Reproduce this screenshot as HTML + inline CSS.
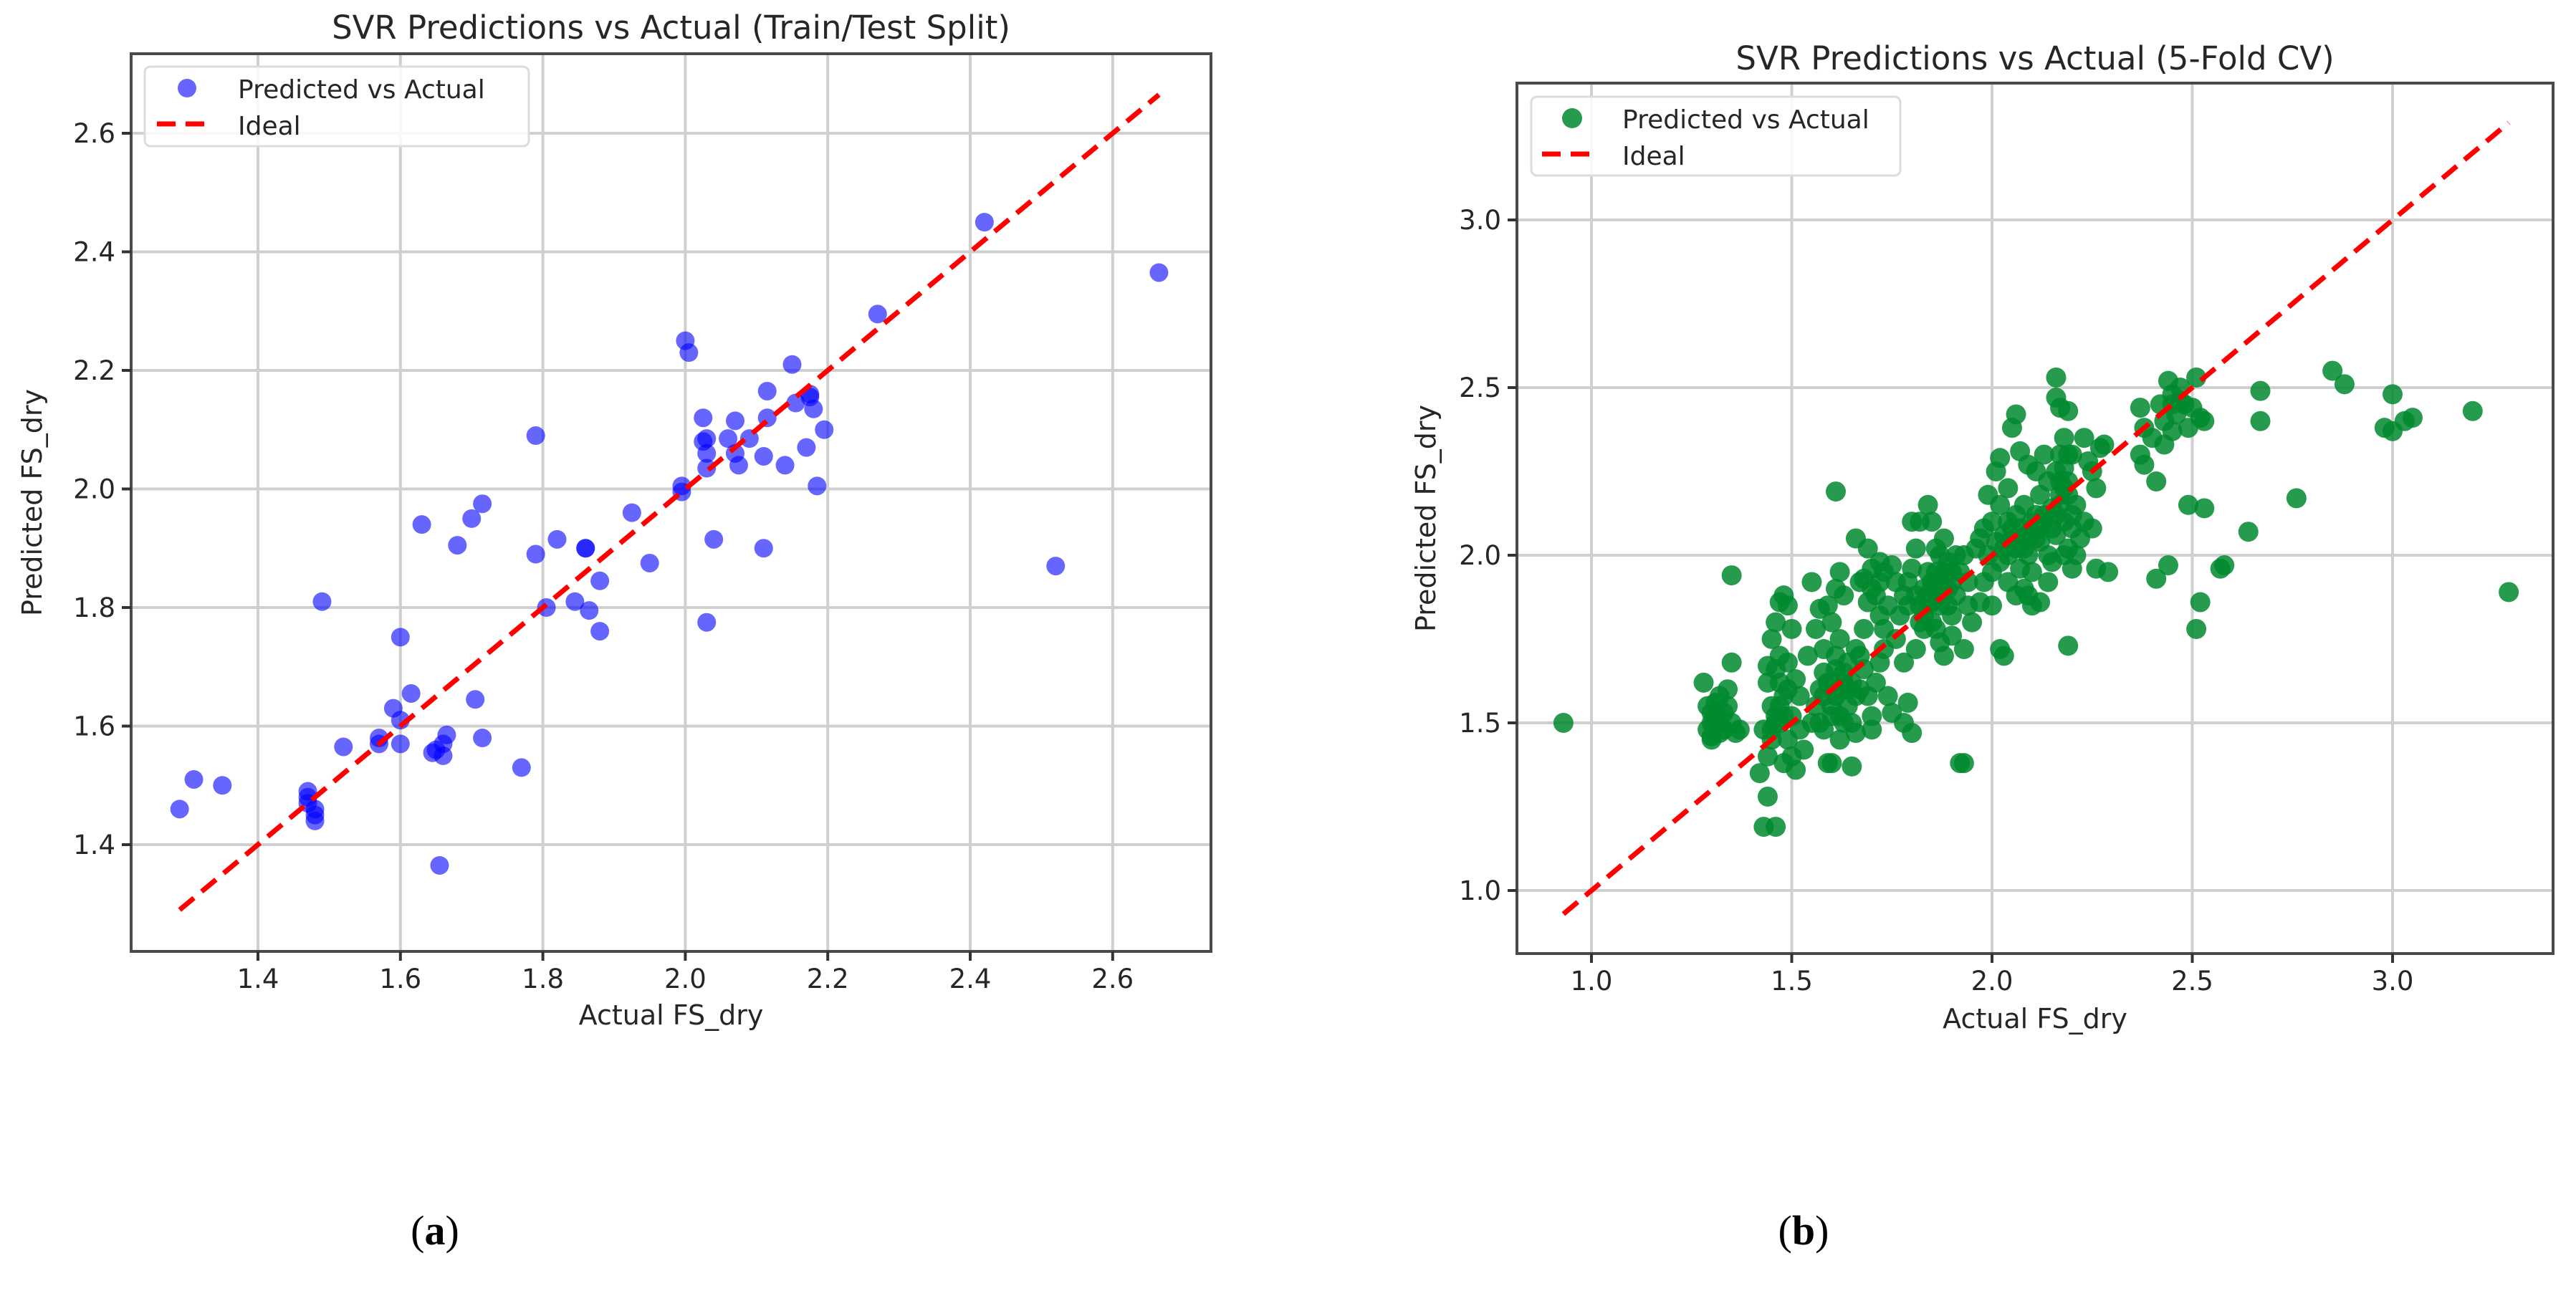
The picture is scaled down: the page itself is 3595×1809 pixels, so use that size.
<!DOCTYPE html>
<html>
<head>
<meta charset="utf-8">
<style>
  html,body{margin:0;padding:0;background:#fff;}
  svg{display:block;}
  text{font-family:"DejaVu Sans","Liberation Sans",sans-serif;fill:#262626;}
</style>
</head>
<body>
<svg id="fig" width="3595" height="1809" viewBox="0 0 3595 1809" xmlns="http://www.w3.org/2000/svg">
  <rect width="3595" height="1809" fill="#fff"/>
  <g id="panelA"></g>
  <g id="panelB"></g>
  <text x="607" y="1737" font-size="58" text-anchor="middle" style="font-family:'Liberation Serif',serif;fill:#000">(<tspan font-weight="bold">a</tspan>)</text>
  <text x="2517" y="1737" font-size="58" text-anchor="middle" style="font-family:'Liberation Serif',serif;fill:#000">(<tspan font-weight="bold">b</tspan>)</text>
</svg>
<script>
// ---- Panel A data (Train/Test split) ----
const aActual = [1.29,1.31,1.35,1.47,1.47,1.48,1.48,1.48,1.47,1.49,
1.52,1.57,1.57,1.59,1.60,1.60,1.60,1.615,1.63,1.645,
1.65,1.655,1.66,1.66,1.665,1.68,1.70,1.705,1.715,1.715,
1.77,1.79,1.79,1.805,1.82,1.845,1.86,1.86,1.865,1.88,
1.88,1.925,1.95,1.995,1.995,2.00,2.005,2.025,2.025,2.03,
2.03,2.03,2.03,2.04,2.06,2.07,2.07,2.075,2.09,2.11,
2.11,2.115,2.115,2.14,2.15,2.155,2.17,2.175,2.175,2.18,
2.185,2.195,2.27,2.42,2.52,2.665];
const aPred = [1.46,1.51,1.50,1.47,1.49,1.46,1.45,1.44,1.48,1.81,
1.565,1.57,1.58,1.63,1.75,1.57,1.61,1.655,1.94,1.555,
1.56,1.365,1.55,1.57,1.585,1.905,1.95,1.645,1.975,1.58,
1.53,2.09,1.89,1.80,1.915,1.81,1.90,1.90,1.795,1.76,
1.845,1.96,1.875,1.995,2.005,2.25,2.23,2.12,2.08,2.085,
2.035,2.06,1.775,1.915,2.085,2.115,2.06,2.04,2.085,2.055,
1.90,2.165,2.12,2.04,2.21,2.145,2.07,2.155,2.16,2.135,
2.005,2.10,2.295,2.45,1.87,2.365];
const aXTicks = [1.4,1.6,1.8,2.0,2.2,2.4,2.6];
const aYTicks = [1.4,1.6,1.8,2.0,2.2,2.4,2.6];
const aIdeal = [1.29,2.665];

// ---- Panel B data (5-fold CV) ----
const bActual = [1.28,1.29,1.30,1.30,1.31,1.32,1.33,1.34,1.35,1.36,
1.29,1.31,1.33,1.35,1.35,1.37,1.30,1.32,0.93,1.34,
1.43,1.46,1.44,1.42,1.44,1.45,1.43,1.46,1.47,1.45,
1.44,1.46,1.47,1.45,1.46,1.47,1.48,1.49,1.48,1.49,
1.50,1.48,1.50,1.51,1.47,1.49,1.44,1.50,1.51,1.52,
1.53,1.55,1.56,1.57,1.58,1.58,1.59,1.60,1.60,1.61,
1.61,1.62,1.60,1.59,1.61,1.62,1.61,1.63,1.64,1.65,
1.65,1.66,1.64,1.66,1.67,1.68,1.69,1.70,1.70,1.68,
1.66,1.70,1.72,1.71,1.72,1.73,1.74,1.75,1.78,1.80,
1.79,1.63,1.55,1.57,1.54,1.56,1.58,1.62,1.67,1.69,
1.52,1.57,1.63,1.64,1.59,
1.76,1.77,1.78,1.79,1.80,1.81,1.80,1.82,1.84,1.85,
1.83,1.84,1.85,1.86,1.87,1.88,1.86,1.87,1.88,1.89,
1.90,1.91,1.92,1.93,1.94,1.95,1.93,1.92,1.78,1.81,
1.82,1.84,1.86,1.88,1.89,1.90,1.91,1.79,1.83,1.87,
1.90,1.76,1.81,1.85,1.94,
1.96,1.97,1.98,1.99,2.00,2.00,2.01,2.02,2.02,2.03,
2.04,2.04,2.05,2.06,2.06,2.07,2.08,2.08,2.09,2.10,
2.10,2.11,2.12,2.12,2.13,2.14,2.14,2.15,2.16,2.16,
2.17,2.17,2.18,2.18,2.19,2.19,2.20,2.20,2.21,2.22,
2.02,2.03,2.00,2.01,2.02,1.99,2.05,2.06,2.07,2.09,
2.16,2.16,2.17,2.19,2.19,2.20,2.23,2.24,2.25,2.26,
2.27,2.28,2.26,2.29,2.23,2.25,2.09,2.10,2.12,2.14,
2.06,2.08,1.97,1.98,2.04,2.11,2.13,2.15,2.18,2.21,
2.37,2.38,2.37,2.38,2.40,2.41,2.42,2.43,2.44,2.45,
2.46,2.47,2.48,2.49,2.50,2.51,2.45,2.43,2.53,2.52,
2.49,2.53,2.41,2.44,2.51,2.52,
2.57,2.58,2.64,2.67,2.67,2.76,2.85,2.88,2.98,3.00,
3.00,3.03,3.05,3.20,3.29,1.93,
1.58,1.60,1.62,1.63,1.60,1.62,1.65,1.67,1.66,1.61,
1.70,1.72,1.73,1.71,1.74,1.69,1.72,1.68,1.75,1.73,
1.82,1.84,1.85,1.86,1.87,1.88,1.89,1.90,1.83,1.85,
2.05,2.07,2.08,2.10,2.11,2.12,2.13,2.15,2.16,2.17,
2.18,2.19,2.20,2.17,2.18,2.19,2.03,2.04,2.06,2.09,
1.46,1.47,1.48,1.45,1.49,1.31,1.32,1.30,2.45,2.47];
const bPred = [1.62,1.55,1.50,1.46,1.52,1.58,1.48,1.60,1.50,1.47,
1.48,1.56,1.53,1.68,1.94,1.48,1.45,1.50,1.50,1.55,
1.19,1.19,1.28,1.35,1.40,1.45,1.48,1.52,1.50,1.55,
1.62,1.66,1.70,1.75,1.80,1.86,1.88,1.85,1.58,1.45,
1.52,1.38,1.40,1.36,1.62,1.68,1.67,1.78,1.63,1.48,
1.42,1.50,1.55,1.60,1.65,1.48,1.38,1.38,1.52,1.58,
1.70,1.75,1.80,1.85,1.90,1.95,2.19,1.62,1.55,1.50,
1.37,1.47,1.68,1.72,1.60,1.66,1.58,1.52,1.48,1.78,
2.05,1.96,1.98,1.62,1.68,1.72,1.58,1.53,1.50,1.47,
1.56,1.88,1.92,1.84,1.70,1.78,1.72,1.45,1.92,2.02,
1.58,1.50,1.50,1.60,1.62,
1.75,1.82,1.88,1.92,1.96,2.02,2.10,2.10,2.15,2.10,
1.90,1.85,1.80,1.78,1.74,1.70,1.95,2.00,1.90,1.85,
1.82,1.88,1.95,2.00,1.92,1.80,1.72,1.38,1.68,1.72,
1.80,1.95,2.02,2.05,1.98,1.92,2.00,1.85,1.78,1.85,
1.76,1.92,1.88,1.90,1.85,
2.02,2.05,2.08,2.00,1.95,2.10,2.04,1.98,2.15,2.06,
2.00,1.92,2.08,2.12,2.02,1.96,2.06,2.15,2.00,2.08,
1.95,2.12,2.04,2.18,2.10,2.00,2.22,2.14,2.06,2.25,
2.18,2.30,2.10,2.35,2.02,2.22,2.08,2.30,2.00,2.05,
1.72,1.70,1.85,2.25,2.29,2.18,2.38,2.42,2.31,2.27,
2.53,2.47,2.44,2.43,1.73,1.96,2.35,2.28,2.25,2.20,
2.32,2.33,1.96,1.95,2.10,2.08,1.88,1.85,1.86,1.92,
1.88,1.90,1.86,1.92,2.20,2.25,2.30,1.98,2.00,2.15,
2.44,2.38,2.30,2.27,2.35,2.22,2.45,2.40,2.52,2.48,
2.42,2.50,2.45,2.38,2.44,2.53,2.37,2.33,2.40,2.41,
2.15,2.14,1.93,1.97,1.78,1.86,
1.96,1.97,2.07,2.49,2.40,2.17,2.55,2.51,2.38,2.37,
2.48,2.40,2.41,2.43,1.89,1.38,
1.58,1.62,1.60,1.65,1.55,1.52,1.62,1.70,1.58,1.66,
1.90,1.92,1.95,1.88,1.85,1.86,1.82,1.93,1.97,1.78,
1.85,1.88,1.92,1.88,1.93,1.95,1.90,1.95,1.82,1.86,
2.05,2.08,2.02,2.10,2.05,2.08,2.12,2.08,2.12,2.15,
2.20,2.18,2.12,2.22,2.26,2.30,2.02,2.10,2.06,2.05,
1.50,1.55,1.52,1.48,1.60,1.50,1.47,1.53,2.45,2.46];
const bXTicks = [1.0,1.5,2.0,2.5,3.0];
const bYTicks = [1.0,1.5,2.0,2.5,3.0];
const bIdeal = [0.93,3.29];

const NS = "http://www.w3.org/2000/svg";
function mk(tag, attrs, parent){
  const el = document.createElementNS(NS, tag);
  for (const k in attrs) el.setAttribute(k, attrs[k]);
  parent.appendChild(el);
  return el;
}

function drawPanel(g, cfg){
  const X = cfg.x, Y = cfg.y, b = cfg.box;
  cfg.xTicks.forEach(v=>{
    const gl = mk('line',{x1:X(v),x2:X(v),y1:b.t,y2:b.b,stroke:'#cfcfcf','stroke-width':4},g);
    
    
  });
  cfg.yTicks.forEach(v=>{
    const gl = mk('line',{x1:b.l,x2:b.r,y1:Y(v),y2:Y(v),stroke:'#cfcfcf','stroke-width':4},g);
    
    
  });
  const pts = mk('g',{},g);
  
  
  cfg.xs.forEach((v,i)=>{
    const c = mk('circle',{cx:X(v),cy:Y(cfg.ys[i]),r:cfg.r,fill:cfg.color,'fill-opacity':cfg.op},pts);
    
    
  });
  const il = mk('line',{x1:X(cfg.ideal[0]),y1:Y(cfg.ideal[0]),x2:X(cfg.ideal[1]),y2:Y(cfg.ideal[1]),stroke:'#ff0000','stroke-width':7,'stroke-dasharray':'26,14'},g);
  
  
  const sp = mk('rect',{x:b.l,y:b.t,width:b.r-b.l,height:b.b-b.t,fill:'none',stroke:'#4a4a4a','stroke-width':4},g);
  
  
  cfg.xTicks.forEach(v=>{
    const tk = mk('line',{x1:X(v),x2:X(v),y1:b.b,y2:b.b+13,stroke:'#333','stroke-width':4},g);
    
    
    const t = mk('text',{x:X(v),y:b.b+51,'font-size':37,'text-anchor':'middle'},g);
    t.textContent = v.toFixed(1);
    
    
  });
  cfg.yTicks.forEach(v=>{
    const tk = mk('line',{x1:b.l-13,x2:b.l,y1:Y(v),y2:Y(v),stroke:'#333','stroke-width':4},g);
    
    
    const t = mk('text',{x:b.l-22,y:Y(v)+13,'font-size':37,'text-anchor':'end'},g);
    t.textContent = v.toFixed(1);
    
    
  });
  const tt = mk('text',{x:(b.l+b.r)/2,y:cfg.titleY,'font-size':45,'text-anchor':'middle'},g);
  tt.textContent = cfg.title;
  
  
  const xl = mk('text',{x:(b.l+b.r)/2,y:cfg.xlabY,'font-size':38,'text-anchor':'middle'},g);
  xl.textContent = 'Actual FS_dry';
  
  
  const yl = mk('text',{x:0,y:0,'font-size':38,'text-anchor':'middle',transform:`translate(${cfg.ylabX},${(b.t+b.b)/2}) rotate(-90)`},g);
  yl.textContent = 'Predicted FS_dry';
  
  
  const L = cfg.leg;
  const lg = mk('g',{},g);
  
  
  mk('rect',{x:L.x,y:L.y,width:L.w,height:L.h,rx:8,fill:'#fff','fill-opacity':0.85,stroke:'#dcdcdc','stroke-width':3},lg);
  const lm = mk('circle',{cx:L.mx,cy:L.y+30,r:cfg.r,fill:cfg.color,'fill-opacity':cfg.op},lg);
  
  
  const ld = mk('line',{x1:L.mx-42,x2:L.mx+34,y1:L.y+80,y2:L.y+80,stroke:'#ff0000','stroke-width':7,'stroke-dasharray':'26,14'},lg);
  
  
  const t1 = mk('text',{x:L.tx,y:L.y+44,'font-size':36},lg);
  t1.textContent = 'Predicted vs Actual';
  
  
  const t2 = mk('text',{x:L.tx,y:L.y+95,'font-size':36},lg);
  t2.textContent = 'Ideal';
  
  
}

drawPanel(document.getElementById('panelA'), {
  x: v => 360 + (v-1.4)*994,
  y: v => 1179 - (v-1.4)*827.5,
  box: {l:183, r:1690, t:75, b:1328},
  xTicks: aXTicks, yTicks: aYTicks,
  xs: aActual, ys: aPred, ideal: aIdeal,
  r: 13, color: '#0000ff', op: 0.6,
  title: 'SVR Predictions vs Actual (Train/Test Split)',
  titleY: 54, xlabY: 1430, ylabX: 58,
  leg: {x:202, y:93, w:536, h:111, mx:261, tx:332}
});
drawPanel(document.getElementById('panelB'), {
  x: v => 3339 + (v-3)*559,
  y: v => 1243 - (v-1)*468,
  box: {l:2117, r:3563, t:116, b:1331},
  xTicks: bXTicks, yTicks: bYTicks,
  xs: bActual, ys: bPred, ideal: bIdeal,
  r: 14, color: '#008a2e', op: 0.85,
  title: 'SVR Predictions vs Actual (5-Fold CV)',
  titleY: 97, xlabY: 1435, ylabX: 2003,
  leg: {x:2137, y:135, w:515, h:110, mx:2194, tx:2264}
});
</script>
</body>
</html>
